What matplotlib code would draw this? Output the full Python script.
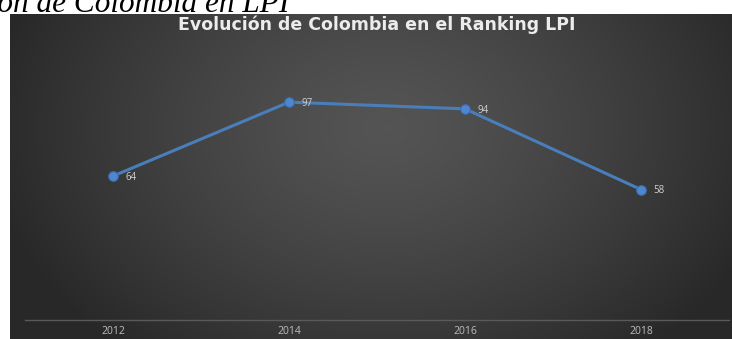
import matplotlib
matplotlib.use('Agg')
import matplotlib.pyplot as plt
import numpy as np

# data
years = ['2012', '2014', '2016', '2018']
ranking = [64, 97, 94, 58]
chart_title = 'Evolución de Colombia en el Ranking LPI'
caption = 'Evolución de Colombia en LPI'

W, H = 732, 339
fig = plt.figure(figsize=(W / 100, H / 100), dpi=100)
fig.patch.set_facecolor('white')

# caption cut at the top of the picture
fig.text(290 / W, 1 - 12 / H, caption, ha='right', va='baseline',
         fontsize=22.5, family='Liberation Serif', style='italic', color='black')

# dark panel with radial gradient
bg = fig.add_axes([10 / W, 0, (W - 10) / W, (H - 14) / H])
bg.set_axis_off()
gx, gy = np.meshgrid(np.linspace(0, 1, 400), np.linspace(0, 1, 200))
r = np.sqrt(((gx - 0.52) / 0.55) ** 2 + ((gy - 0.35) / 0.9) ** 2)
r = np.clip(r, 0, 1)
shade = 0.33 - 0.17 * r ** 1.3
img = np.dstack([shade, shade, shade])
bg.imshow(img, extent=[0, 1, 0, 1], aspect='auto', origin='upper')
bg.set_xlim(0, 1)
bg.set_ylim(0, 1)

fig.text(377 / W, 1 - 30.5 / H, chart_title, ha='center', va='baseline',
         fontsize=12.5, fontweight='bold', family='DejaVu Sans', color='#ececec')

# plot area
ax = fig.add_axes([25 / W, (H - 319.5) / H, 704 / W, 268.9 / H])
ax.patch.set_alpha(0)
x = np.arange(len(years))
ax.plot(x, ranking, color='#4a7ebb', lw=2.2, solid_capstyle='round',
        marker='o', ms=7, mfc='#4f86cf', mec='#3c6aa8', mew=0.8, zorder=3)
for xi, v in zip(x, ranking):
    ax.annotate(str(v), (xi, v), xytext=(9, -1), textcoords='offset points',
                ha='left', va='center', fontsize=7, color='#d0d0d0', family='Open Sans')

ax.set_xlim(-0.5, len(years) - 0.5)
ax.set_ylim(0, 120)
ax.set_xticks(x)
ax.set_xticklabels(years, fontsize=7.5, color='#bdbdbd', family='Open Sans')
ax.set_yticks([])
ax.tick_params(axis='x', length=0, pad=5)
for s in ['top', 'right', 'left']:
    ax.spines[s].set_visible(False)
ax.spines['bottom'].set_color('#5a5a5a')
ax.spines['bottom'].set_linewidth(1)

plt.savefig('out.png', dpi=100)
plt.close()
